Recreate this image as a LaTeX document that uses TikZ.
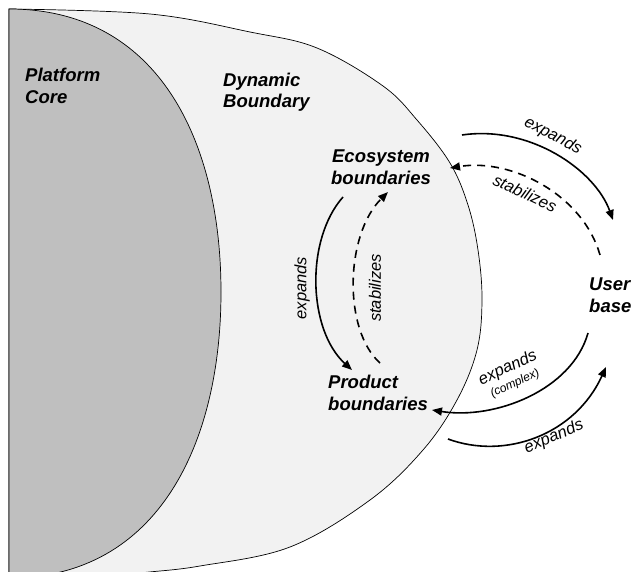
\documentclass[tikz,border=0pt]{standalone}
\usepackage{fontspec}
\setmainfont{Liberation Sans}
\usetikzlibrary{arrows.meta}
\definecolor{corefill}{HTML}{BFBFBF}
\definecolor{outerfill}{HTML}{F2F2F2}
\begin{document}
\begin{tikzpicture}[x=1pt,y=-1pt,
  head/.style={font=\fontsize{18.5}{21.5}\selectfont\bfseries\itshape, inner sep=0pt},
  lbl/.style={font=\fontsize{16.5}{18}\selectfont\itshape, inner sep=0pt},
  arr/.style={line width=1.6pt, -{Triangle[length=10pt,width=8pt]}},
  dsh/.style={arr, dash pattern=on 8pt off 6pt},
  outline/.style={line width=0.7pt, draw=black}
]
\useasboundingbox (0,0) rectangle (633,572);
\begin{scope}
\clip (0,0) rectangle (633,572);
\filldraw[outline, fill=outerfill] plot[smooth, tension=0.6] coordinates {(9,9) (150,14) (250,32) (317,48) (383,86) (417,120) (450,163) (468,205) (478,250) (482,300) (477,350) (457,400) (423,450) (370,500) (290,547) (200,566) (140,573) (60,582)} -- (9,582) -- cycle;
\filldraw[outline, fill=corefill] (9,9) .. controls (159,9) and (221,142) .. (221,292) .. controls (221,442) and (159,578) .. (9,578) -- cycle;
\end{scope}

\node[head, anchor=north west, align=left] (core) at (25,68) {Platform\\Core};
\node[head, anchor=north west, align=left] (dyn) at (223,72.5) {Dynamic\\Boundary};
\node[head, anchor=north, align=center] (eco) at (381,150) {Ecosystem\\boundaries};
\node[head, anchor=north west, align=left] (prod) at (328,375) {Product\\boundaries};
\node[head, anchor=north west, align=left] (user) at (589,278) {User\\base};

\coordinate (a1s) at (343,197); \coordinate (a1e) at (352,370);
\coordinate (a2s) at (380,363); \coordinate (a2e) at (388,192);
\coordinate (a3s) at (462,135); \coordinate (a3e) at (613,220);
\coordinate (a4s) at (600,255); \coordinate (a4e) at (450,168);
\coordinate (a5s) at (588,333); \coordinate (a5e) at (432,410);
\coordinate (a6s) at (448,439); \coordinate (a6e) at (606,367);

\draw[arr] (a1s) .. controls (305,240) and (308,330) .. (a1e);
\draw[dsh] (a2s) .. controls (343,330) and (345,235) .. (a2e);
\draw[arr] (a3s) .. controls (530,125) and (595,170) .. (a3e);
\draw[dsh] (a4s) .. controls (583,195) and (512,158) .. (a4e);
\draw[arr] (a5s) .. controls (572,390) and (495,420) .. (a5e);
\draw[arr] (a6s) .. controls (505,460) and (575,435) .. (a6e);

\node[lbl, rotate=90] (l1) at (302,288) {expands};
\node[lbl, rotate=90] (l2) at (375,288) {stabilizes};
\node[lbl, rotate=-28] (l3) at (553,136) {expands};
\node[lbl, rotate=-25] (l4) at (525,193) {stabilizes};
\node[lbl, rotate=25, align=center] (l5) at (511,375) {expands\\[-2pt]{\fontsize{12}{13}\selectfont (complex)}};
\node[lbl, rotate=23] (l6) at (554,437) {expands};
\end{tikzpicture}
\end{document}
